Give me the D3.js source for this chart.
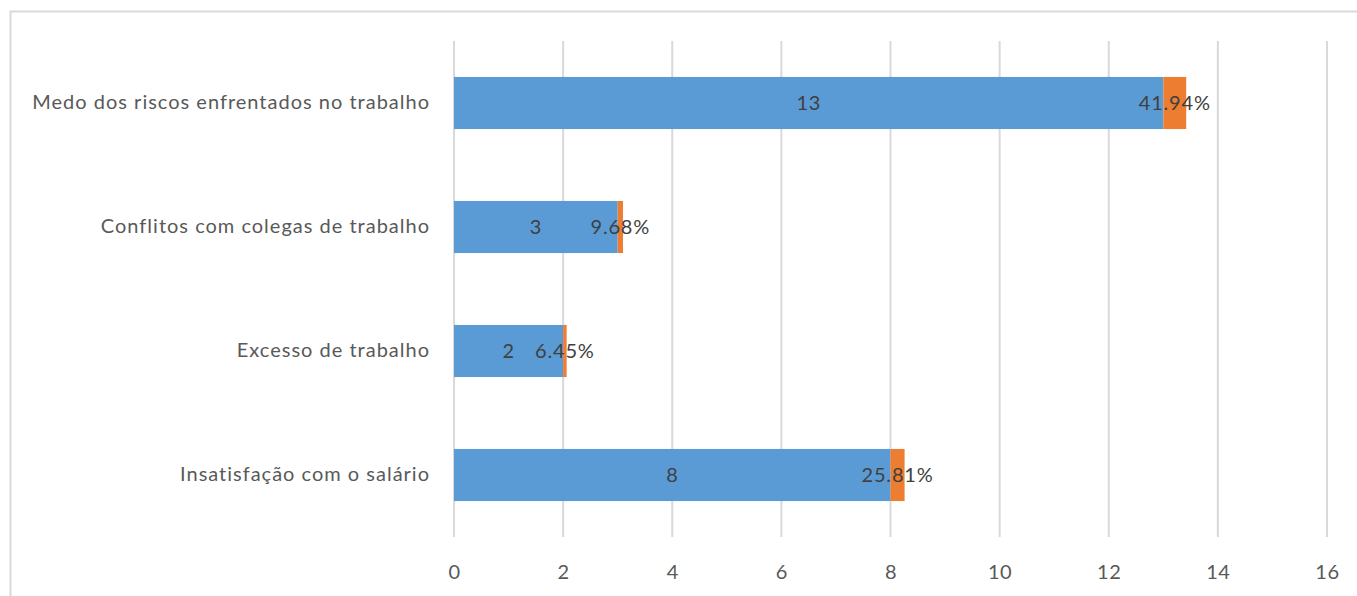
<!DOCTYPE html>
<html>
<head>
<meta charset="utf-8">
<script src="https://cdn.jsdelivr.net/npm/d3@7"></script>
<style>
  html, body { margin: 0; padding: 0; background: #fff; }
  svg { display: block; }
  text { font-family: Lato, "Open Sans", sans-serif; }
</style>
</head>
<body>
<svg id="chart" width="1357" height="596"></svg>
<script>
// Motivos de estresse no trabalho: contagem e percentual
const categories = [
  "Medo dos riscos enfrentados no trabalho",
  "Conflitos com colegas de trabalho",
  "Excesso de trabalho",
  "Insatisfação com o salário"
];
const counts = [13, 3, 2, 8];
const percents = [41.94, 9.68, 6.45, 25.81];
const ticks = [0, 2, 4, 6, 8, 10, 12, 14, 16];

const svg = d3.select("#chart");
const W = 1357, H = 596;
const margin = { left: 454, right: 30, top: 41, bottom: 59 };
const FONT = "Lato, 'Open Sans', sans-serif";

// chart frame
svg.append("rect")
  .attr("x", 10.5).attr("y", 11.5)
  .attr("width", W + 10).attr("height", H + 10)
  .attr("fill", "none").attr("stroke", "#d9d9d9").attr("stroke-width", 2);

const x = d3.scaleLinear().domain([0, 16]).range([454, 1327]);
const y = d3.scaleBand().domain(categories).range([margin.top, H - margin.bottom]).paddingInner(0.58).paddingOuter(0.29);

// vertical gridlines
svg.append("g").selectAll("line").data(ticks).join("line")
  .attr("x1", d => x(d)).attr("x2", d => x(d))
  .attr("y1", margin.top).attr("y2", H - margin.bottom)
  .attr("stroke", "#d9d9d9").attr("stroke-width", 2);

// x axis labels
const xAxis = d3.axisBottom(x).tickValues(ticks).tickSize(0).tickPadding(0).tickFormat(d3.format("d"));
const gx = svg.append("g").attr("transform", `translate(0,${H - margin.bottom})`).call(xAxis);
gx.select(".domain").remove();
gx.selectAll("text").attr("fill", "#595959").attr("font-size", 20).attr("dy", 42)
  .style("font-family", FONT).style("letter-spacing", "0.6px");

// category labels
const yAxis = d3.axisLeft(y).tickSize(0).tickPadding(24);
const gy = svg.append("g").attr("transform", `translate(${x(0)},0)`).call(yAxis);
gy.select(".domain").remove();
gy.selectAll("text").attr("fill", "#595959").attr("font-size", 20)
  .style("font-family", FONT).style("letter-spacing", "1px");

const rows = categories.map((c, i) => ({ c, n: counts[i], p: percents[i] }));

// count segment
svg.append("g").selectAll("rect").data(rows).join("rect")
  .attr("x", x(0)).attr("y", d => y(d.c))
  .attr("width", d => x(d.n) - x(0)).attr("height", y.bandwidth())
  .attr("fill", "#5b9bd5");

// percentage segment (stacked as a fraction)
svg.append("g").selectAll("rect").data(rows).join("rect")
  .attr("x", d => x(d.n)).attr("y", d => y(d.c))
  .attr("width", d => x(d.n + d.p / 100) - x(d.n)).attr("height", y.bandwidth())
  .attr("fill", "#ed7d31");

// value labels
svg.append("g").selectAll("text").data(rows).join("text")
  .attr("x", d => (x(0) + x(d.n)) / 2).attr("y", d => y(d.c) + y.bandwidth() / 2)
  .attr("dy", "0.36em").attr("text-anchor", "middle")
  .attr("fill", "#404040").attr("font-size", 20).style("letter-spacing", "0.6px")
  .text(d => d.n);

svg.append("g").selectAll("text").data(rows).join("text")
  .attr("x", d => (x(d.n) + x(d.n + d.p / 100)) / 2).attr("y", d => y(d.c) + y.bandwidth() / 2)
  .attr("dy", "0.36em").attr("text-anchor", "middle")
  .attr("fill", "#404040").attr("font-size", 20).style("letter-spacing", "0.8px")
  .text(d => d3.format(".2f")(d.p) + "%");
</script>
</body>
</html>
